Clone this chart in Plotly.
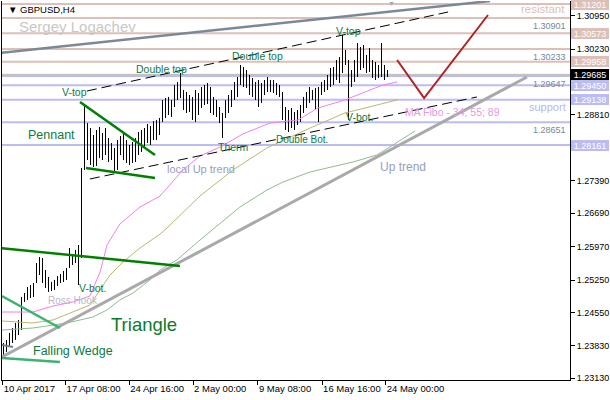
import plotly.graph_objects as go

# ---------------- data ----------------
bar_high = [1.23892, 1.23957, 1.24108, 1.24215, 1.24323, 1.24388, 1.24884, 1.24970, 1.25100, 1.25143,
            1.25186, 1.25617, 1.25746, 1.25725, 1.25466, 1.25315, 1.25208, 1.25251, 1.25337, 1.25380,
            1.25445, 1.25509, 1.25941, 1.25790, 1.25898, 1.26005, 1.27666, 1.29046, 1.28636, 1.28528,
            1.28377, 1.28485, 1.28550, 1.28421, 1.28528, 1.28313, 1.28205, 1.28097, 1.28270, 1.28356,
            1.28421, 1.28270, 1.28162, 1.28227, 1.28313, 1.28442, 1.28485, 1.28528, 1.28615, 1.28572,
            1.28679, 1.28701, 1.28744, 1.29132, 1.29175, 1.29197, 1.29132, 1.29456, 1.29520, 1.29714,
            1.29348, 1.29305, 1.29240, 1.29197, 1.29348, 1.29283, 1.29413, 1.29456, 1.29499, 1.29413,
            1.29197, 1.29132, 1.28981, 1.28852, 1.29132, 1.29240, 1.29348, 1.29520, 1.29628, 1.29887,
            1.29844, 1.29779, 1.29671, 1.29606, 1.29520, 1.29563, 1.29499, 1.29563, 1.29628, 1.29563,
            1.29563, 1.29499, 1.29456, 1.29305, 1.28981, 1.28916, 1.28959, 1.28873, 1.28916, 1.29024,
            1.29197, 1.29305, 1.29413, 1.29348, 1.29391, 1.29413, 1.29520, 1.29563, 1.29671, 1.29822,
            1.29844, 1.29995, 1.30059, 1.30534, 1.30210, 1.29995, 1.29779, 1.29995, 1.30361, 1.30275,
            1.30318, 1.30103, 1.30254, 1.29995, 1.29952, 1.29887, 1.30361, 1.29887, 1.29779]
bar_low = [1.23590, 1.23698, 1.23805, 1.23892, 1.23957, 1.24064, 1.24172, 1.24776, 1.24819, 1.24862,
           1.24884, 1.25186, 1.25358, 1.25186, 1.25078, 1.24992, 1.25013, 1.25035, 1.25122, 1.25186,
           1.25208, 1.25251, 1.25509, 1.25574, 1.25617, 1.25143, 1.25725, 1.27623, 1.27838, 1.27730,
           1.27687, 1.27709, 1.27881, 1.27838, 1.27946, 1.27795, 1.27838, 1.27580, 1.27623, 1.27946,
           1.27838, 1.27774, 1.27730, 1.27774, 1.27795, 1.27946, 1.28011, 1.28097, 1.28205, 1.28162,
           1.28270, 1.28270, 1.28377, 1.28658, 1.28744, 1.28809, 1.28766, 1.28981, 1.29132, 1.29175,
           1.28916, 1.28852, 1.28873, 1.28701, 1.28658, 1.28809, 1.28959, 1.29024, 1.29046, 1.28852,
           1.28809, 1.28766, 1.28636, 1.28313, 1.28744, 1.28852, 1.28981, 1.29132, 1.29197, 1.29456,
           1.29413, 1.29391, 1.29240, 1.29197, 1.29132, 1.28981, 1.29068, 1.29240, 1.29305, 1.29305,
           1.29283, 1.29240, 1.29197, 1.28701, 1.28485, 1.28442, 1.28528, 1.28485, 1.28593, 1.28658,
           1.28852, 1.28959, 1.29068, 1.29132, 1.28916, 1.28658, 1.29240, 1.29305, 1.29348, 1.29413,
           1.29456, 1.29563, 1.29499, 1.29714, 1.29887, 1.28701, 1.29413, 1.29520, 1.29628, 1.29779,
           1.29822, 1.29714, 1.29736, 1.29606, 1.29563, 1.29606, 1.29628, 1.29563, 1.29628]

x_tick_pos = [-0.27, 20.7, 41.9, 63.2, 84.8, 106.2, 127.4]
x_tick_labels = ["10 Apr 2017", "17 Apr 08:00", "24 Apr 16:00", "2 May 00:00",
                 "9 May 08:00", "16 May 16:00", "24 May 00:00"]
y_tick_vals = [1.30950, 1.30230, 1.28810, 1.27390, 1.26690,
               1.25970, 1.25250, 1.24550, 1.23830, 1.23130]

resistance_levels = [1.31201, 1.30901, 1.30573, 1.30233, 1.29958]
resistance_boxed = [True, False, True, False, True]
support_levels = [1.29647, 1.29450, 1.29138, 1.28651, 1.28161]
support_boxed = [False, True, True, False, True]
last_price = 1.29685

# moving averages (34, 55, 89) read at points along the line
ma34_x = [-0.5, 9.8, 16.5, 23.2, 28.8, 32.2, 34.5, 38.8, 45.5, 52.2, 59.8, 65.5, 72.2, 79.8, 88.8, 98.2, 104.8, 113.8, 120.5, 126.5, 131.2]
ma34_y = [1.24560, 1.24560, 1.24689, 1.24776, 1.24905, 1.25423, 1.26005, 1.26458, 1.26824, 1.27062, 1.27623,
          1.27924, 1.28118, 1.28399, 1.28636, 1.28701, 1.28959, 1.29132, 1.29305, 1.29456, 1.29520]
ma55_x = [-0.5, 9.8, 16.5, 21.2, 28.8, 32.2, 35.5, 39.8, 45.5, 52.2, 54.5, 65.5, 76.5, 87.8, 92.2, 102.2, 113.8, 120.5, 131.2]
ma55_y = [1.24366, 1.24323, 1.24388, 1.24517, 1.24711, 1.25035, 1.25358, 1.25638, 1.25941, 1.26242, 1.26372,
          1.27062, 1.27623, 1.28097, 1.28227, 1.28528, 1.28852, 1.28959, 1.29132]
ma89_x = [-0.5, 9.8, 21.2, 29.8, 34.5, 38.8, 43.2, 48.8, 52.2, 57.8, 65.5, 72.2, 78.8, 87.8, 93.2, 102.2, 109.8, 116.5, 124.5, 132.2, 137.2]
ma89_y = [1.24172, 1.24215, 1.24323, 1.24452, 1.24604, 1.24819, 1.24970, 1.25251, 1.25466, 1.25682, 1.26113,
          1.26479, 1.26824, 1.27191, 1.27364, 1.27580, 1.27687, 1.27795, 1.27946, 1.28270, 1.28464]

# drawn trend lines / patterns (bar index, price)
upper_gray_x, upper_gray_y = [-1.17, 162.2], [1.30146, 1.31267]
chan_top_x, chan_top_y = [27.8, 148.2], [1.29326, 1.31030]
chan_bot_x, chan_bot_y = [28.8, 157.8], [1.27428, 1.29197]
up_trend_x, up_trend_y = [-0.5, 174.5], [1.23590, 1.29628]
forecast_x, forecast_y = [131.2, 140.2, 161.5], [1.29995, 1.29175, 1.30965]
pennant_top_x, pennant_top_y = [25.5, 50.5], [1.29089, 1.27946]
pennant_bot_x, pennant_bot_y = [27.5, 50.5], [1.27666, 1.27450]
triangle_top_x, triangle_top_y = [-1.17, 58.8], [1.25941, 1.25552]
wedge_top_x, wedge_top_y = [-0.5, 18.8], [1.24905, 1.24215]
wedge_bot_x, wedge_bot_y = [-0.5, 18.8], [1.23568, 1.23482]
slate_seg_x, slate_seg_y = [-0.5, 3.2], [1.23849, 1.23805]

# ---------------- figure ----------------
FONT = "Liberation Sans"
PINK = "#dcc0b8"
BLUE = "#bcbcf4"
TXT_G = "#0f7a3f"

fig = go.Figure()

# high-low bars
bx, by = [], []
for i, (h, l) in enumerate(zip(bar_high, bar_low)):
    bx += [i, i, None]
    by += [l, h, None]
fig.add_trace(go.Scatter(x=bx, y=by, mode="lines", line=dict(color="black", width=1),
                         hoverinfo="skip"))

def line(x, y, color, width, dash="solid"):
    fig.add_trace(go.Scatter(x=x, y=y, mode="lines",
                             line=dict(color=color, width=width, dash=dash),
                             hoverinfo="skip"))

line(ma34_x, ma34_y, "#ee82ee", 1)
line(ma55_x, ma55_y, "#bdb76b", 1)
line(ma89_x, ma89_y, "#8fbc8f", 1)
line(up_trend_x, up_trend_y, "#a9a9a9", 3)
line(upper_gray_x, upper_gray_y, "#7a8898", 2.5)
line(chan_top_x, chan_top_y, "black", 1, "10px,5px")
line(chan_bot_x, chan_bot_y, "black", 1, "10px,5px")
line(forecast_x, forecast_y, "#b22222", 2)
line(pennant_top_x, pennant_top_y, "#008000", 2.5)
line(pennant_bot_x, pennant_bot_y, "#008000", 2.5)
line(triangle_top_x, triangle_top_y, "#008000", 2.5)
line(wedge_top_x, wedge_top_y, "#3cb371", 2.5)
line(wedge_bot_x, wedge_bot_y, "#3cb371", 2.5)
line(slate_seg_x, slate_seg_y, "#708090", 2)

shapes = []
for lv in resistance_levels:
    shapes.append(dict(type="line", xref="paper", x0=0, x1=1, yref="y", y0=lv, y1=lv,
                       line=dict(color=PINK, width=2), layer="below"))
for lv in support_levels:
    shapes.append(dict(type="line", xref="paper", x0=0, x1=1, yref="y", y0=lv, y1=lv,
                       line=dict(color=BLUE, width=2), layer="below"))
shapes.append(dict(type="line", xref="paper", x0=0, x1=1, yref="y", y0=last_price, y1=last_price,
                   line=dict(color="#b8b8b8", width=1), layer="below"))

ann = []
def txt(text, x, y, size, color, xanchor="center", xref="x", yref="y"):
    ann.append(dict(text=text, x=x, y=y, xref=xref, yref=yref, showarrow=False,
                    xanchor=xanchor, yanchor="middle",
                    font=dict(family=FONT, size=size, color=color)))

txt("V-top", 23.5, 1.29294, 10.5, TXT_G)
txt("Double top", 52.8, 1.29801, 10.5, TXT_G)
txt("Double top", 84.5, 1.30081, 10.5, TXT_G)
txt("V-top", 115.0, 1.30620, 10.5, TXT_G)
txt("V-bot.", 118.5, 1.28765, 10.5, TXT_G)
txt("Double Bot.", 99.5, 1.28270, 10, TXT_G)
txt("Therm", 76.8, 1.28108, 10.5, TXT_G)
txt("Pennant", 16.0, 1.28377, 12.5, TXT_G)
txt("V-bot.", 29.5, 1.25078, 10.5, TXT_G)
txt("Ross Hook", 23.3, 1.24808, 10, "#b8b8c8")
txt("Triangle", 46.7, 1.24280, 18.5, "#0c7a2a")
txt("Falling Wedge", 23.0, 1.23719, 12.5, TXT_G)
txt("local Up trend", 65.7, 1.27644, 11, "#98a0c0")
txt("Up trend", 133.2, 1.27687, 12, "#98a0c0")
txt("MA Fibo - 34; 55; 89", 149.5, 1.28873, 10.5, "#e29ae2")
txt("resistant", 187.8, 1.31095, 11.5, PINK, "right")
txt("support", 188.2, 1.28981, 11, "#b8b8f0", "right")

# level labels inside the chart (unboxed levels)
for lv, boxed in zip(resistance_levels, resistance_boxed):
    if not boxed:
        ann.append(dict(text=f"{lv:.5f}", x=188.2, y=lv, xref="x", yref="y", showarrow=False,
                        xanchor="right", yanchor="top", yshift=-1,
                        font=dict(family=FONT, size=9, color="#778899")))
for lv, boxed in zip(support_levels, support_boxed):
    if not boxed:
        ann.append(dict(text=f"{lv:.5f}", x=188.2, y=lv, xref="x", yref="y", showarrow=False,
                        xanchor="right", yanchor="top", yshift=-1,
                        font=dict(family=FONT, size=9, color="#778899")))

# boxed labels on the price scale
def box(lv, bg):
    ann.append(dict(text=f"{lv:.5f}", x=1, y=lv, xref="paper", yref="y", showarrow=False,
                    xanchor="left", yanchor="middle", xshift=1, width=38, height=11,
                    borderpad=0, borderwidth=0, bgcolor=bg,
                    font=dict(family=FONT, size=9, color="white")))

for lv, boxed in zip(resistance_levels, resistance_boxed):
    if boxed:
        box(lv, PINK)
for lv, boxed in zip(support_levels, support_boxed):
    if boxed:
        box(lv, BLUE)
box(last_price, "black")

# header texts
txt("\u25BC GBPUSD,H4", 0.007, 0.9776, 9.5, "black", "left", "paper", "paper")
txt("Sergey Logachev", 0.0264, 0.9327, 15, "#c8c8c8", "left", "paper", "paper")
txt("\u25BC", 0.6849, 0.9947, 7, "#a8a8a8", "center", "paper", "paper")

fig.update_layout(
    width=610, height=400,
    margin=dict(l=2, r=40, t=1, b=20, autoexpand=False),
    paper_bgcolor="white", plot_bgcolor="white",
    showlegend=False, hovermode=False,
    shapes=shapes, annotations=ann,
    font=dict(family=FONT, size=9.5, color="black"),
    xaxis=dict(range=[-0.5, 188.8333], showgrid=False, zeroline=False,
               showline=True, linecolor="black", linewidth=1,
               ticks="outside", ticklen=4, tickcolor="black",
               tickvals=x_tick_pos, ticktext=x_tick_labels, tickangle=0,
               ticklabelposition="outside right",
               tickfont=dict(family=FONT, size=9.5, color="black"), fixedrange=True),
    yaxis=dict(range=[1.230935, 1.312670], side="right", showgrid=False, zeroline=False,
               showline=True, linecolor="black", linewidth=1, mirror=True,
               ticks="outside", ticklen=4, tickcolor="black",
               tickvals=y_tick_vals, ticktext=[f"{v:.5f}" for v in y_tick_vals],
               tickfont=dict(family=FONT, size=9, color="black"), fixedrange=True),
)

fig.write_html("out.html", config={"displayModeBar": False},
               post_script="document.body.style.margin='0px';document.body.style.overflow='hidden';")
